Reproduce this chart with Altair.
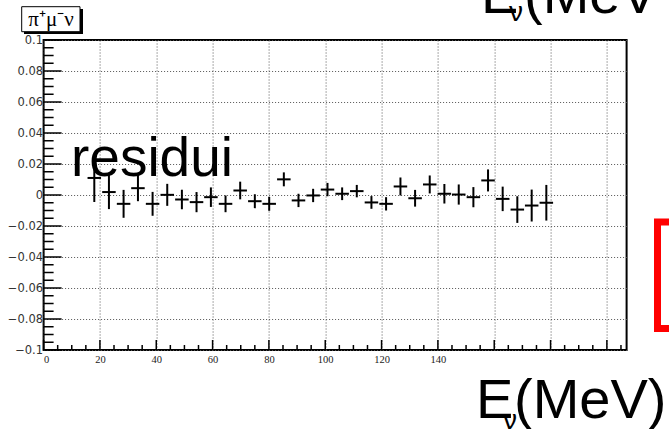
import altair as alt
import pandas as pd

# ---- data ----
x_centers = [18.0, 23.2, 28.4, 33.5, 38.7, 43.9, 49.1, 54.3, 59.4, 64.6, 69.8, 75.0,
             80.1, 85.3, 90.5, 95.7, 100.8, 106.0, 111.2, 116.4, 121.6, 126.7, 131.9,
             137.1, 142.3, 147.4, 152.6, 157.8, 163.0, 168.2, 173.3, 178.5]
residuals = [0.0110, 0.0019, -0.0057, 0.0044, -0.0057, 0.0001, -0.0029, -0.0046,
             -0.0014, -0.0057, 0.0029, -0.0040, -0.0057, 0.0101, -0.0035, -0.0003,
             0.0035, 0.0008, 0.0025, -0.0048, -0.0057, 0.0055, -0.0021, 0.0068,
             0.0008, 0.0003, -0.0014, 0.0094, -0.0025, -0.0094, -0.0068, -0.0050]
errors = [0.0155, 0.0110, 0.0090, 0.0084, 0.0077, 0.0071, 0.0063, 0.0065,
          0.0063, 0.0054, 0.0057, 0.0045, 0.0045, 0.0045, 0.0043, 0.0043,
          0.0043, 0.0041, 0.0040, 0.0041, 0.0043, 0.0058, 0.0054, 0.0058,
          0.0063, 0.0065, 0.0065, 0.0071, 0.0079, 0.0086, 0.0103, 0.0115]

x_major = [0, 20, 40, 60, 80, 100, 120, 140, 160, 180, 200]
x_minor = [5, 10, 15, 25, 30, 35, 45, 50, 55, 65, 70, 75, 85, 90, 95, 105, 110, 115,
           125, 130, 135, 145, 150, 155, 165, 170, 175, 185, 190, 195, 205]
y_major = [-0.1, -0.08, -0.06, -0.04, -0.02, 0.0, 0.02, 0.04, 0.06, 0.08, 0.1]
y_minor = [-0.095, -0.09, -0.085, -0.075, -0.07, -0.065, -0.055, -0.05, -0.045,
           -0.035, -0.03, -0.025, -0.015, -0.01, -0.005, 0.005, 0.01, 0.015,
           0.025, 0.03, 0.035, 0.045, 0.05, 0.055, 0.065, 0.07, 0.075, 0.085,
           0.09, 0.095]

legend_text = ["π⁺μ⁻ν"]
inner_text = ["residui"]
axis_symbol = ["E"]
axis_sub = ["ν"]
axis_unit = ["(MeV)"]
top_unit = ["(MeV )"]

# ---- layout ----
L, T = 43.6, 40
W, H = 583, 310
HALF = 2.4

df = pd.DataFrame({"x": x_centers, "y": residuals, "err": errors})
df["lo"] = df["y"] - df["err"]
df["hi"] = df["y"] + df["err"]
df["xl"] = df["x"] - HALF
df["xr"] = df["x"] + HALF

xs = alt.Scale(domain=[0, 207], nice=False, zero=False)
ys = alt.Scale(domain=[-0.1, 0.1], nice=False, zero=False)

xaxis = alt.Axis(values=x_major, labelExpr="datum.value > 140 ? '' : datum.label", title=None)
yaxis = alt.Axis(values=y_major, format=".2~f", title=None)

pts = alt.Chart(df)
vbars = pts.mark_rule(color="black", strokeWidth=2).encode(
    x=alt.X("x:Q", scale=xs, axis=xaxis),
    y=alt.Y("lo:Q", scale=ys, axis=yaxis),
    y2="hi:Q",
)
hbars = pts.mark_rule(color="black", strokeWidth=2).encode(
    x=alt.X("xl:Q", scale=xs, axis=xaxis),
    x2="xr:Q",
    y=alt.Y("y:Q", scale=ys, axis=yaxis),
)

def yticks(vals, length):
    return alt.Chart(pd.DataFrame({"v": vals})).mark_rule(color="black", strokeWidth=1.5).encode(
        y=alt.Y("v:Q", scale=ys, axis=yaxis), x=alt.value(0), x2=alt.value(length))

def xticks(vals, length):
    return alt.Chart(pd.DataFrame({"v": vals})).mark_rule(color="black", strokeWidth=1.5).encode(
        x=alt.X("v:Q", scale=xs, axis=xaxis), y=alt.value(H), y2=alt.value(H - length))

def text_layer(txt, x, y, size, font="Liberation Sans", align="left", baseline="alphabetic"):
    return alt.Chart(pd.DataFrame({"t": txt})).mark_text(
        font=font, fontSize=size, align=align, baseline=baseline, color="black").encode(
        text="t:N", x=alt.value(x), y=alt.value(y))

one = pd.DataFrame({"k": [0]})
shadow = alt.Chart(one).mark_rect(color="black").encode(
    x=alt.value(24 - L), x2=alt.value(83 - L), y=alt.value(9 - T), y2=alt.value(34 - T))
box = alt.Chart(one).mark_rect(fill="white", stroke="black", strokeWidth=1).encode(
    x=alt.value(21.7 - L), x2=alt.value(80 - L), y=alt.value(6.7 - T), y2=alt.value(31.7 - T))
redbox = alt.Chart(one).mark_rect(fillOpacity=0, stroke="#ff0000", strokeWidth=7).encode(
    x=alt.value(657.5 - L), x2=alt.value(720 - L), y=alt.value(222 - T), y2=alt.value(328.5 - T))

chart = alt.layer(
    vbars, hbars,
    yticks(y_major, 18), yticks(y_minor, 10),
    xticks(x_major, 10), xticks(x_minor, 5),
    text_layer(inner_text, 71 - L, 176 - T, 55),
    shadow, box,
    text_layer(legend_text, 51 - L, 26 - T, 21, font="Liberation Serif", align="center"),
    redbox,
    text_layer(axis_symbol, 476 - L, 418 - T, 56),
    text_layer(axis_sub, 503 - L, 429 - T, 28),
    text_layer(axis_unit, 514 - L, 418 - T, 56),
    text_layer(axis_symbol, 481 - L, 13 - T, 56),
    text_layer(axis_sub, 509 - L, 21 - T, 28),
    text_layer(top_unit, 524 - L, 13 - T, 56),
).properties(
    width=W, height=H,
    background="white",
    autosize=alt.AutoSizeParams(type="none"),
    padding={"left": L, "top": T, "right": 669 - L - W, "bottom": 429 - T - H},
).configure_view(
    stroke="black", strokeWidth=2
).configure_axis(
    grid=True, gridDash=[1, 2], gridColor="#555", gridWidth=1,
    ticks=False, domain=False,
).configure_axisX(
    labelFont="Liberation Serif", labelFontSize=10.5, labelColor="#222", labelPadding=4,
).configure_axisY(
    labelFont="DejaVu Sans", labelFontSize=11.5, labelColor="#333", labelPadding=1,
)

chart.save("out.html", embed_options={"renderer": "svg", "actions": False})
